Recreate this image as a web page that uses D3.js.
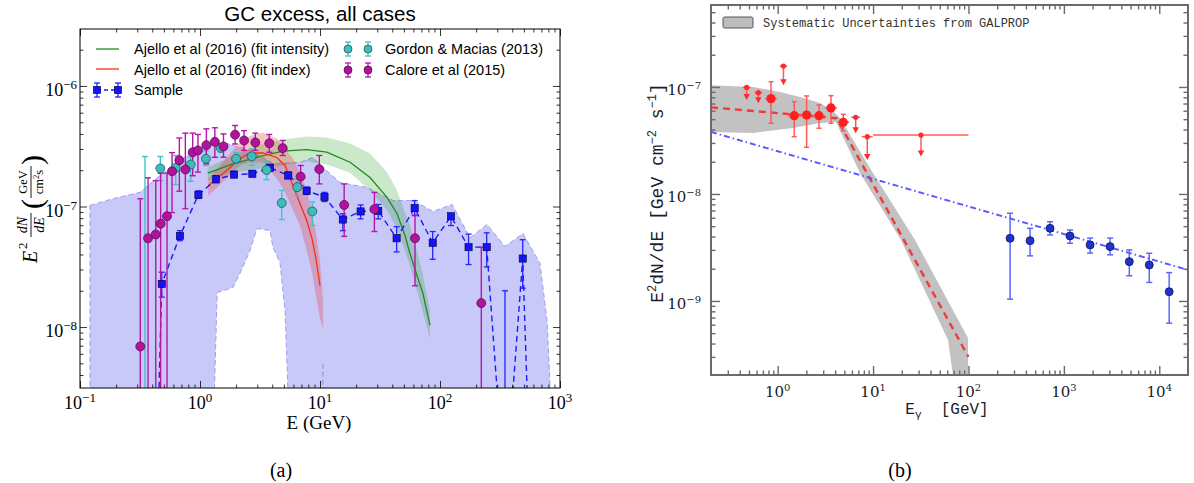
<!DOCTYPE html>
<html><head><meta charset="utf-8">
<script src="https://cdn.jsdelivr.net/npm/d3@7"></script>
<style>body{margin:0;background:#fff}svg{display:block}</style>
</head><body>
<svg id="fig" width="1194" height="483"></svg>
<script>
// ---------------- Panel (a): GC excess, all cases ----------------
const sampleE  = [0.34, 0.48, 0.68, 0.97, 1.36, 1.92, 2.73, 3.83, 5.44, 7.74, 10.9, 15.5, 21.8, 30.6, 43.5, 61.5, 86.9, 123.5, 173, 245, 348, 489, 690];
const sampleV  = [4e-14, 2.28e-8, 5.7e-8, 1.25e-7, 1.68e-7, 1.84e-7, 1.87e-7, 2.1e-7, 1.81e-7, 1.35e-7, 1.2e-7, 7.8e-8, 9.1e-8, 9.2e-8, 5.45e-8, 9.7e-8, 5.0e-8, 8.3e-8, 4.6e-8, 4.6e-8, 3.8e-10, 3.7e-8, 1.2e-12];
const sampleLo = [null, 1.77e-8, 5.2e-8, 1.17e-7, 1.58e-7, 1.74e-7, 1.77e-7, 1.98e-7, 1.7e-7, 1.26e-7, 1.1e-7, 6.3e-8, 7.9e-8, 7.9e-8, 4.2e-8, 8.4e-8, 3.65e-8, 6.95e-8, 3.3e-8, 3.15e-8, 1e-10, 2.1e-8, null];
const sampleHi = [null, 2.85e-8, 6.3e-8, 1.35e-7, 1.8e-7, 1.96e-7, 1.98e-7, 2.22e-7, 1.93e-7, 1.45e-7, 1.31e-7, 8.7e-8, 1.03e-7, 1.04e-7, 6.8e-8, 1.12e-7, 6.2e-8, 8.7e-8, 5.9e-8, 6.05e-8, 2.0e-8, 5.3e-8, null];

// sample uncertainty envelope (upper edge, lower edge)
const envUpE = [0.121, 0.188, 0.316, 0.464, 0.643, 0.826, 1.14, 1.68, 2.61, 4.06, 6.81, 8.74, 10.6, 14.7, 24.6, 40.6, 59.6, 87.4, 126, 178, 246, 348, 492, 681, 780, 875];
const envUpV = [1.02e-7, 1.16e-7, 1.31e-7, 1.81e-7, 2.27e-7, 2.75e-7, 3.21e-7, 3.33e-7, 2.92e-7, 2.27e-7, 2.32e-7, 2.55e-7, 2.11e-7, 1.58e-7, 1.44e-7, 1.12e-7, 1.12e-7, 9.1e-8, 1.04e-7, 5.5e-8, 7.1e-8, 4.66e-8, 5.97e-8, 3.37e-8, 1.13e-8, 1e-9];
const envLoE = [0.121, 1.28, 1.39, 1.88, 2.15, 2.61, 2.98, 3.83, 4.06, 4.64, 5.11, 5.62, 10.45, 10.55, 10.65, 875];
const envLoV = [1e-9, 1e-9, 1.93e-8, 2.13e-8, 2.78e-8, 4.31e-8, 6.56e-8, 6.32e-8, 4.57e-8, 3.43e-8, 1.37e-8, 1e-9, 1e-9, 5.1e-9, 1e-9, 1e-9];

const gordonE  = [0.348, 0.467, 0.627, 0.836, 1.12, 1.49, 2.0, 2.70, 3.59, 4.80, 6.47, 8.63];
const gordonV  = [1e-9, 2.07e-7, 2.09e-7, 2.23e-7, 2.49e-7, 3.07e-7, 2.49e-7, 2.61e-7, 2.01e-7, 1.07e-7, 1.45e-7, 9.1e-8];
const gordonLo = [1e-10, 1.64e-7, 1.52e-7, 1.62e-7, 2.19e-7, 2.82e-7, 2.19e-7, 2.19e-7, 1.67e-7, 7.8e-8, 1.23e-7, 6.95e-8];
const gordonHi = [2.6e-7, 2.6e-7, 2.65e-7, 2.57e-7, 2.9e-7, 3.31e-7, 2.8e-7, 3.0e-7, 2.38e-7, 1.36e-7, 1.7e-7, 1.09e-7];

const caloreE  = [0.318, 0.369, 0.428, 0.470, 0.531, 0.585, 0.673, 0.755, 0.869, 0.962, 1.13, 1.33, 1.57, 1.96, 2.33, 2.89, 3.78, 4.89, 6.90, 9.87, 15.9, 28.4, 61.9, 221];
const caloreV  = [6.9e-9, 5.45e-8, 5.86e-8, 7.2e-8, 8.3e-8, 1.96e-7, 2.42e-7, 2.03e-7, 2.82e-7, 2.92e-7, 3.23e-7, 3.44e-7, 3.15e-7, 3.94e-7, 3.53e-7, 3.40e-7, 3.35e-7, 3.05e-7, 1.77e-7, 2.04e-7, 1.03e-7, 9.5e-8, 5.45e-8, 1.58e-8];
const caloreLo = [1e-10, 1e-10, 1e-10, 1e-10, 1e-10, 8.9e-8, 1.34e-7, 9.6e-8, 1.8e-7, 1.93e-7, 2.26e-7, 2.56e-7, 2.56e-7, 3.3e-7, 2.92e-7, 2.92e-7, 2.82e-7, 2.65e-7, 1.49e-7, 1.54e-7, 5.65e-8, 6.2e-8, 2.2e-8, 1e-10];
const caloreHi = [1.16e-7, 1.73e-7, 1.64e-7, 1.89e-7, 1.89e-7, 2.8e-7, 3.7e-7, 4.06e-7, 4.06e-7, 3.96e-7, 4.41e-7, 4.5e-7, 4.0e-7, 4.7e-7, 4.26e-7, 4.06e-7, 3.96e-7, 3.53e-7, 2.19e-7, 2.65e-7, 1.54e-7, 1.31e-7, 8.5e-8, 4.6e-8];

// Ajello et al (2016), fit intensity
const ajIntE  = [1.16, 1.88, 3.16, 4.92, 7.75, 11.4, 17.8, 26.1, 36.2, 43.8, 51.1, 56.2, 64.3, 72.1, 82.5];
const ajIntV  = [1.89e-7, 2.26e-7, 2.6e-7, 2.88e-7, 2.96e-7, 2.83e-7, 2.33e-7, 1.74e-7, 1.19e-7, 8.75e-8, 5.75e-8, 4.07e-8, 2.68e-8, 1.9e-8, 1.03e-8];
const ajIntLo = [1.64e-7, 1.91e-7, 2.07e-7, 2.19e-7, 2.36e-7, 2.23e-7, 1.91e-7, 1.36e-7, 9.3e-8, 6.57e-8, 4.3e-8, 3.24e-8, 2.0e-8, 1.32e-8, 8.0e-9];
const ajIntHi = [2.11e-7, 2.65e-7, 3.27e-7, 3.6e-7, 3.81e-7, 3.74e-7, 3.33e-7, 2.75e-7, 1.92e-7, 1.36e-7, 8.9e-8, 6.96e-8, 4.3e-8, 2.68e-8, 1.37e-8];

// Ajello et al (2016), fit index
const ajIdxE  = [1.17, 1.67, 2.15, 2.61, 3.35, 4.36, 5.11, 5.96, 6.81, 7.75, 8.58, 9.26, 10.0];
const ajIdxV  = [1.49e-7, 1.99e-7, 2.49e-7, 2.78e-7, 2.78e-7, 2.55e-7, 2.19e-7, 1.49e-7, 1.06e-7, 7.66e-8, 5.42e-8, 3.7e-8, 2.21e-8];
const ajIdxBandE  = [1.17, 1.67, 2.15, 2.61, 3.35, 4.36, 5.11, 5.96, 6.81, 7.75, 8.58, 9.26, 10.0, 10.6];
const ajIdxBandLo = [1.23e-7, 1.71e-7, 2.19e-7, 2.32e-7, 2.32e-7, 1.71e-7, 1.31e-7, 9.3e-8, 6.96e-8, 4.3e-8, 2.83e-8, 1.83e-8, 1.18e-8, 9.7e-9];
const ajIdxBandHi = [1.70e-7, 2.55e-7, 3.39e-7, 3.87e-7, 4.1e-7, 3.66e-7, 3.03e-7, 2.5e-7, 1.91e-7, 1.36e-7, 8.9e-8, 6.08e-8, 3.56e-8, 1.66e-8];

const ticksA_x = [-1, 0, 1, 2, 3];
const ticksA_y = [-8, -7, -6];

// ---------------- Panel (b) ----------------
const sysUpE  = [0.2, 0.551, 1.06, 1.71, 2.78, 3.80, 4.50, 9.98, 27.5, 98.8, 98.8];
const sysUpV  = [1.04e-7, 1.0e-7, 8.98e-8, 8.06e-8, 7.1e-8, 5.97e-8, 5.13e-8, 1.57e-8, 3.72e-9, 4.5e-10, 1.5e-10];
const sysLoE  = [0.2, 0.551, 1.45, 2.78, 4.08, 7.29, 19.6, 61, 72.2];
const sysLoV  = [3.8e-8, 3.72e-8, 4.14e-8, 4.61e-8, 4.71e-8, 1.57e-8, 3.72e-9, 4.32e-10, 1.5e-10];

const gcModelE = [0.2, 4.15, 100];
const gcModelV = [6.45e-8, 5.1e-8, 3.0e-10];
const plModelE = [0.2, 2e4];
const plModelV = [3.8e-8, 1.95e-9];

const lowE    = [0.851, 1.49, 2.01, 2.71, 3.62, 4.87];
const lowEmin = [0.737, 1.29, 1.74, 2.35, 3.13, 4.22];
const lowEmax = [0.983, 1.72, 2.32, 3.13, 4.18, 5.62];
const lowV    = [7.78e-8, 5.39e-8, 5.47e-8, 5.39e-8, 6.37e-8, 4.68e-8];
const lowLo   = [4.58e-8, 3.43e-8, 2.73e-8, 4.11e-8, 4.58e-8, 3.88e-8];
const lowHi   = [1.12e-7, 7.29e-8, 8.24e-8, 6.79e-8, 8.3e-8, 5.55e-8];

const ulE    = [0.473, 0.627, 1.15, 6.57, 8.69, 31.8];
const ulEmin = [0.43, 0.57, 1.05, 5.9, 7.6, 10];
const ulEmax = [0.52, 0.69, 1.26, 7.3, 9.9, 100];
const ulV    = [9.9e-8, 8.85e-8, 1.57e-7, 5.21e-8, 3.43e-8, 3.55e-8];
const ulTip  = [7.56e-8, 7.04e-8, 1.04e-7, 3.69e-8, 2.08e-8, 2.24e-8];

const highE  = [273, 442, 716, 1159, 1883, 3050, 4850, 7850, 12700];
const highV  = [3.85e-9, 3.66e-9, 4.77e-9, 4.05e-9, 3.34e-9, 3.22e-9, 2.33e-9, 2.17e-9, 1.22e-9];
const highLo = [1.04e-9, 2.64e-9, 4.14e-9, 3.46e-9, 2.8e-9, 2.7e-9, 1.72e-9, 1.49e-9, 6.2e-10];
const highHi = [6.6e-9, 4.77e-9, 5.5e-9, 4.6e-9, 3.87e-9, 3.87e-9, 3.0e-9, 2.79e-9, 1.84e-9];

const ticksB_x = [0, 1, 2, 3, 4];
const ticksB_y = [-9, -8, -7];

// ---------------- drawing ----------------
const svg = d3.select("#fig");
const defs = svg.append("defs");
defs.append("clipPath").attr("id", "clipA").append("rect").attr("x", 80).attr("y", 29).attr("width", 480).attr("height", 359);
defs.append("clipPath").attr("id", "clipB").append("rect").attr("x", 711).attr("y", 5).attr("width", 477).attr("height", 370);

const zip = (E, V, Lo, Hi) => E.map((e, i) => ({e, v: V[i], lo: Lo ? Lo[i] : null, hi: Hi ? Hi[i] : null}));

function minorVals(dom) {
  const out = [];
  for (let d = Math.floor(Math.log10(dom[0])); d <= Math.ceil(Math.log10(dom[1])); d++)
    for (let k = 2; k <= 9; k++) {
      const v = k * Math.pow(10, d);
      if (v > dom[0] * 1.0001 && v < dom[1] * 0.9999) out.push(v);
    }
  return out;
}
function majorVals(dom) {
  const out = [];
  for (let d = Math.ceil(Math.log10(dom[0]) - 1e-9); d <= Math.floor(Math.log10(dom[1]) + 1e-9); d++) out.push(Math.pow(10, d));
  return out;
}
function frame(g, x, y, st) {
  const [x0, x1] = x.range(), [y0, y1] = y.range();
  const addAxis = (fn, sc, vals, len, tr) => g.append("g").attr("transform", tr)
    .call(fn(sc).tickValues(vals).tickSize(-len).tickFormat(() => ""))
    .call(s => s.select(".domain").remove())
    .call(s => s.selectAll("line").attr("stroke", st.color).attr("stroke-width", st.tw));
  const xd = x.domain(), yd = y.domain();
  [[d3.axisBottom, `translate(0,${y0})`], [d3.axisTop, `translate(0,${y1})`]].forEach(([fn, tr]) => {
    addAxis(fn, x, majorVals(xd), st.maj, tr);
    addAxis(fn, x, minorVals(xd), st.min, tr);
  });
  [[d3.axisLeft, `translate(${x0},0)`], [d3.axisRight, `translate(${x1},0)`]].forEach(([fn, tr]) => {
    addAxis(fn, y, majorVals(yd), st.maj, tr);
    addAxis(fn, y, minorVals(yd), st.min, tr);
  });
  g.append("rect").attr("x", x0).attr("y", y1).attr("width", x1 - x0).attr("height", y0 - y1)
    .attr("fill", "none").attr("stroke", st.color).attr("stroke-width", st.fw);
}
function powLabel(g, px, py, exp, anchor, font, size, sup, color, raise) {
  const t = g.append("text").attr("x", px).attr("y", py).attr("text-anchor", anchor)
    .attr("font-family", font).attr("font-size", size).attr("fill", color);
  t.append("tspan").text("10");
  t.append("tspan").attr("dy", -raise).attr("font-size", sup).text(exp < 0 ? "\u2212" + (-exp) : String(exp));
}
function errBars(g, pts, x, y, color, w, cap) {
  const eb = g.append("g").attr("stroke", color).attr("stroke-width", w).attr("fill", "none");
  pts.filter(p => p.lo != null).forEach(p => {
    const px = x(p.e);
    eb.append("line").attr("x1", px).attr("x2", px).attr("y1", y(p.lo)).attr("y2", y(p.hi));
    [p.lo, p.hi].forEach(v => eb.append("line").attr("x1", px - cap).attr("x2", px + cap).attr("y1", y(v)).attr("y2", y(v)));
  });
}

// ===== Panel (a) =====
const xA = d3.scaleLog().domain([0.1, 1000]).range([80, 560]);
const yA = d3.scaleLog().domain([3.12e-9, 2.97e-6]).range([388, 29]);
const gA = svg.append("g");
const pA = gA.append("g").attr("clip-path", "url(#clipA)");
const lineA = d3.line().x(d => xA(d[0])).y(d => yA(d[1]));

// sample envelope
const env = envUpE.map((e, i) => [e, envUpV[i]]).concat(envLoE.map((e, i) => [e, envLoV[i]]).reverse());
pA.append("path").attr("d", lineA(env) + "Z").attr("fill", "#c9c9f9")
  .attr("stroke", "#9d9def").attr("stroke-width", 1).attr("stroke-dasharray", "5,3");

// Ajello bands
const areaA = d3.area().x(d => xA(d.e)).y0(d => yA(d.lo)).y1(d => yA(d.hi));
pA.append("path").attr("d", areaA(zip(ajIntE, ajIntV, ajIntLo, ajIntHi))).attr("fill", "rgba(20,150,20,0.22)");
pA.append("path").attr("d", areaA(zip(ajIdxBandE, ajIdxBandE, ajIdxBandLo, ajIdxBandHi))).attr("fill", "rgba(232,60,60,0.30)");
pA.append("path").attr("d", lineA(ajIntE.map((e, i) => [e, ajIntV[i]]))).attr("fill", "none").attr("stroke", "#1f8a1f").attr("stroke-width", 1.3);
pA.append("path").attr("d", lineA(ajIdxE.map((e, i) => [e, ajIdxV[i]]))).attr("fill", "none").attr("stroke", "#f2300f").attr("stroke-width", 1.3);

// sample
const sPts = zip(sampleE, sampleV, sampleLo, sampleHi);
pA.append("path").attr("d", lineA(sPts.map(p => [p.e, p.v]))).attr("fill", "none")
  .attr("stroke", "#1a1aff").attr("stroke-width", 1.4).attr("stroke-dasharray", "6,4");
errBars(pA, sPts, xA, yA, "#2424ff", 1.3, 3);

// Gordon & Macias, Calore
const gPts = zip(gordonE, gordonV, gordonLo, gordonHi);
const cPts = zip(caloreE, caloreV, caloreLo, caloreHi);
errBars(pA, gPts, xA, yA, "#45c2c2", 1.4, 3);
errBars(pA, cPts, xA, yA, "#b516a8", 1.4, 3);

pA.append("g").selectAll("rect").data(sPts).join("rect")
  .attr("x", d => xA(d.e) - 3.6).attr("y", d => yA(d.v) - 3.6).attr("width", 7.2).attr("height", 7.2)
  .attr("fill", "#1414f5").attr("stroke", "#000040").attr("stroke-width", 0.6);
pA.append("g").selectAll("circle").data(gPts).join("circle")
  .attr("cx", d => xA(d.e)).attr("cy", d => yA(d.v)).attr("r", 4.5)
  .attr("fill", "#3cbcbc").attr("stroke", "#1d4a4a").attr("stroke-width", 0.7);
pA.append("g").selectAll("circle").data(cPts).join("circle")
  .attr("cx", d => xA(d.e)).attr("cy", d => yA(d.v)).attr("r", 4.5)
  .attr("fill", "#b3129f").attr("stroke", "#4a0a40").attr("stroke-width", 0.7);

frame(gA, xA, yA, {color: "#000", tw: 0.8, fw: 1, maj: 7, min: 3.5});
ticksA_x.forEach(p => powLabel(gA, xA(Math.pow(10, p)), 409, p, "middle", "'Liberation Serif', serif", 18, 13, "#000", 7));
ticksA_y.forEach(p => powLabel(gA, 77, yA(Math.pow(10, p)) + 10, p, "end", "'Liberation Serif', serif", 18, 13, "#000", 7));

gA.append("text").attr("x", 320).attr("y", 21).attr("text-anchor", "middle")
  .attr("font-family", "'Liberation Sans', Arial, sans-serif").attr("font-size", 20.5).text("GC excess, all cases");
gA.append("text").attr("x", 319).attr("y", 429).attr("text-anchor", "middle")
  .attr("font-family", "'Liberation Serif', serif").attr("font-size", 19).text("E (GeV)");

// y label: E^2 dN/dE (GeV / cm^2 s)
const yl = gA.append("g").attr("transform", "translate(34,209) rotate(-90)")
  .attr("font-family", "'Liberation Serif', serif").attr("fill", "#000");
yl.append("text").attr("x", -54).attr("y", 3).attr("font-style", "italic").attr("font-size", 20).text("E");
yl.append("text").attr("x", -40).attr("y", -7).attr("font-size", 13).text("2");
yl.append("text").attr("x", -16).attr("y", -7).attr("text-anchor", "middle").attr("font-style", "italic").attr("font-size", 14).text("dN");
yl.append("line").attr("x1", -28).attr("x2", -4).attr("y1", -3).attr("y2", -3).attr("stroke", "#000").attr("stroke-width", 0.9);
yl.append("text").attr("x", -16).attr("y", 10).attr("text-anchor", "middle").attr("font-style", "italic").attr("font-size", 14).text("dE");
yl.append("text").attr("x", 0).attr("y", 8).attr("font-size", 30).text("(");
yl.append("text").attr("x", 27).attr("y", -7).attr("text-anchor", "middle").attr("font-size", 12.5).text("GeV");
yl.append("line").attr("x1", 11).attr("x2", 43).attr("y1", -3).attr("y2", -3).attr("stroke", "#000").attr("stroke-width", 0.9);
const den = yl.append("text").attr("x", 27).attr("y", 9).attr("text-anchor", "middle").attr("font-size", 12.5);
den.append("tspan").text("cm");
den.append("tspan").attr("dy", -4).attr("font-size", 8.5).text("2");
den.append("tspan").attr("dy", 4).text("s");
yl.append("text").attr("x", 44).attr("y", 8).attr("font-size", 30).text(")");

// legend (a)
const lg = gA.append("g").attr("font-family", "'Liberation Sans', Arial, sans-serif").attr("font-size", 14.5);
lg.append("line").attr("x1", 96).attr("x2", 119).attr("y1", 49).attr("y2", 49).attr("stroke", "#1f8a1f").attr("stroke-width", 1.3);
lg.append("line").attr("x1", 96).attr("x2", 119).attr("y1", 69).attr("y2", 69).attr("stroke", "#f2300f").attr("stroke-width", 1.3);
lg.append("line").attr("x1", 97).attr("x2", 118).attr("y1", 90).attr("y2", 90).attr("stroke", "#1a1aff").attr("stroke-width", 1.4).attr("stroke-dasharray", "4,3");
function legMark(cx, cy, col, half, shape, fill, edge) {
  lg.append("line").attr("x1", cx).attr("x2", cx).attr("y1", cy - half).attr("y2", cy + half).attr("stroke", col).attr("stroke-width", 1.3);
  [cy - half, cy + half].forEach(v => lg.append("line").attr("x1", cx - 3).attr("x2", cx + 3).attr("y1", v).attr("y2", v).attr("stroke", col).attr("stroke-width", 1.3));
  if (shape === "sq") lg.append("rect").attr("x", cx - 3.6).attr("y", cy - 3.6).attr("width", 7.2).attr("height", 7.2).attr("fill", fill).attr("stroke", edge).attr("stroke-width", 0.6);
  else lg.append("circle").attr("cx", cx).attr("cy", cy).attr("r", 4).attr("fill", fill).attr("stroke", edge).attr("stroke-width", 0.7);
}
[97, 118].forEach(cx => legMark(cx, 90, "#2424ff", 7, "sq", "#1414f5", "#000040"));
[348, 368].forEach(cx => legMark(cx, 49, "#45c2c2", 7, "c", "#3cbcbc", "#1d4a4a"));
[348, 368].forEach(cx => legMark(cx, 70, "#b516a8", 7, "c", "#b3129f", "#4a0a40"));
lg.append("text").attr("x", 134).attr("y", 54).text("Ajello et al (2016) (fit intensity)");
lg.append("text").attr("x", 134).attr("y", 75).text("Ajello et al (2016) (fit index)");
lg.append("text").attr("x", 134).attr("y", 95).text("Sample");
lg.append("text").attr("x", 385).attr("y", 54).text("Gordon & Macias (2013)");
lg.append("text").attr("x", 385).attr("y", 75).text("Calore et al (2015)");

svg.append("text").attr("x", 281).attr("y", 477).attr("text-anchor", "middle")
  .attr("font-family", "'Liberation Serif', serif").attr("font-size", 20).text("(a)");

// ===== Panel (b) =====
const xB = d3.scaleLog().domain([0.2, 2e4]).range([711, 1188]);
const yB = d3.scaleLog().domain([Math.pow(10, -9.692), Math.pow(10, -6.234)]).range([375, 5]);
const gB = svg.append("g");
const pB = gB.append("g").attr("clip-path", "url(#clipB)");
const lineB = d3.line().x(d => xB(d[0])).y(d => yB(d[1]));

const sys = sysUpE.map((e, i) => [e, sysUpV[i]]).concat(sysLoE.map((e, i) => [e, sysLoV[i]]).reverse());
pB.append("path").attr("d", lineB(sys) + "Z").attr("fill", "#c2c2c2");
pB.append("path").attr("d", lineB(gcModelE.map((e, i) => [e, gcModelV[i]]))).attr("fill", "none")
  .attr("stroke", "#f23a3a").attr("stroke-width", 2.4).attr("stroke-dasharray", "7,5");
pB.append("path").attr("d", lineB(plModelE.map((e, i) => [e, plModelV[i]]))).attr("fill", "none")
  .attr("stroke", "#5a5aff").attr("stroke-width", 2).attr("stroke-dasharray", "6,3,1.5,3");

// low-energy detections
const rb = pB.append("g").attr("stroke", "#ff5a5a").attr("stroke-width", 1.5).attr("fill", "none");
lowE.forEach((e, i) => {
  const px = xB(e), py = yB(lowV[i]);
  rb.append("line").attr("x1", px).attr("x2", px).attr("y1", yB(lowLo[i])).attr("y2", yB(lowHi[i]));
  rb.append("line").attr("x1", xB(lowEmin[i])).attr("x2", xB(lowEmax[i])).attr("y1", py).attr("y2", py);
  [lowLo[i], lowHi[i]].forEach(v => rb.append("line").attr("x1", px - 2.5).attr("x2", px + 2.5).attr("y1", yB(v)).attr("y2", yB(v)));
});
// upper limits
ulE.forEach((e, i) => {
  const px = xB(e), py = yB(ulV[i]), pt = yB(ulTip[i]);
  rb.append("line").attr("x1", xB(ulEmin[i])).attr("x2", xB(ulEmax[i])).attr("y1", py).attr("y2", py);
  rb.append("line").attr("x1", px).attr("x2", px).attr("y1", py).attr("y2", pt - 4);
  pB.append("path").attr("d", `M${px - 3.2},${pt - 6}L${px + 3.2},${pt - 6}L${px},${pt}Z`).attr("fill", "#ff2a2a");
  pB.append("circle").attr("cx", px).attr("cy", py).attr("r", 2.6).attr("fill", "#ff2a2a");
});
pB.append("g").selectAll("circle").data(zip(lowE, lowV)).join("circle")
  .attr("cx", d => xB(d.e)).attr("cy", d => yB(d.v)).attr("r", 4.6).attr("fill", "#ff1e1e");

// high-energy detections
const hPts = zip(highE, highV, highLo, highHi);
errBars(pB, hPts, xB, yB, "#5868ff", 1.5, 3);
pB.append("g").selectAll("circle").data(hPts).join("circle")
  .attr("cx", d => xB(d.e)).attr("cy", d => yB(d.v)).attr("r", 4)
  .attr("fill", "#1f35c8").attr("stroke", "#0a1266").attr("stroke-width", 0.8);

frame(gB, xB, yB, {color: "#6a6a6a", tw: 1.4, fw: 2, maj: 9, min: 4.5});
ticksB_x.forEach(p => powLabel(gB, xB(Math.pow(10, p)), 397, p, "middle", "'DejaVu Serif', serif", 15, 10, "#1b1b2b", 6));
ticksB_y.forEach(p => powLabel(gB, 701, yB(Math.pow(10, p)) + 8, p, "end", "'DejaVu Serif', serif", 15, 10, "#1b1b2b", 6));

const xlb = gB.append("text").attr("x", 947).attr("y", 414).attr("text-anchor", "middle").style("white-space", "pre")
  .attr("font-family", "'Liberation Mono', monospace").attr("font-size", 16).attr("fill", "#1c1c2c");
xlb.append("tspan").text("E");
xlb.append("tspan").attr("dy", 4).attr("font-size", 11).text("\u03b3");
xlb.append("tspan").attr("dy", -4).text("  [GeV]");

const ylb = gB.append("text").attr("transform", "translate(663,193) rotate(-90)").attr("text-anchor", "middle").style("white-space", "pre")
  .attr("font-family", "'Liberation Mono', monospace").attr("font-size", 18).attr("fill", "#1c1c2c");
ylb.append("tspan").text("E");
ylb.append("tspan").attr("dy", -7).attr("font-size", 12).text("2");
ylb.append("tspan").attr("dy", 7).text("dN/dE [GeV cm");
ylb.append("tspan").attr("dy", -7).attr("font-size", 12).text("\u22122");
ylb.append("tspan").attr("dy", 7).text(" s");
ylb.append("tspan").attr("dy", -7).attr("font-size", 12).text("\u22121");
ylb.append("tspan").attr("dy", 7).text("]");

// legend (b)
gB.append("rect").attr("x", 723).attr("y", 17).attr("width", 30).attr("height", 11).attr("rx", 1.5)
  .attr("fill", "#bdbdbd").attr("stroke", "#555").attr("stroke-width", 1);
gB.append("text").attr("x", 763).attr("y", 27).attr("font-family", "'Liberation Mono', monospace")
  .attr("font-size", 12).attr("fill", "#333").text("Systematic Uncertainties from GALPROP");

svg.append("text").attr("x", 900).attr("y", 477).attr("text-anchor", "middle")
  .attr("font-family", "'Liberation Serif', serif").attr("font-size", 20).text("(b)");
</script>
</body></html>
